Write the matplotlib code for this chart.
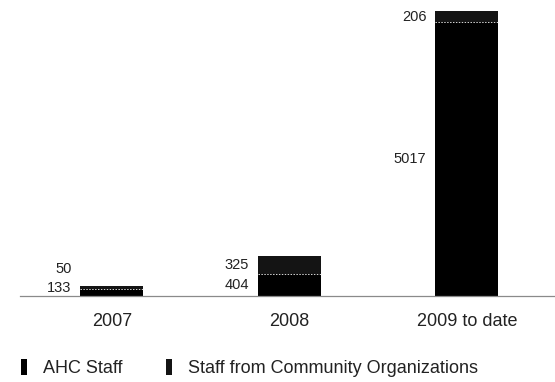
import matplotlib.pyplot as plt
import numpy as np

# Staff trained per period
periodi = ["2007", "2008", "2009 to date"]
ahc_staff = [133, 404, 5017]
staff_comunita = [50, 325, 206]

serie_nomi = ["AHC Staff", "Staff from Community Organizations"]

plt.rcParams["font.family"] = ["Liberation Sans", "DejaVu Sans"]


def disegna_grafico(ax, periodi, inferiore, superiore):
    """
    Barre impilate nere con le etichette dei valori a sinistra di ogni barra.
    """
    x = np.arange(len(periodi))
    larghezza = 0.355
    ax.bar(x, inferiore, width=larghezza, color="#000000", edgecolor="none",
           label=serie_nomi[0])
    ax.bar(x, superiore, width=larghezza, bottom=inferiore, color="#141414",
           edgecolor="none", label=serie_nomi[1])
    # sottile linea chiara tra i due segmenti
    ax.hlines(inferiore, x - larghezza / 2, x + larghezza / 2, colors="#d8d8d8",
              linestyles=(0, (1.5, 1.5)), linewidth=0.7)

    # etichette: al centro del segmento, distanziate se il segmento e' troppo basso
    minimo = 140
    distanza = 350
    for xi, a, b in zip(x, inferiore, superiore):
        y_basso = max(a / 2, minimo)
        y_alto = max(a + b / 2, y_basso + distanza)
        sx = xi - larghezza / 2 - 0.05
        ax.text(sx, y_basso, str(a), ha="right", va="center", fontsize=10.5,
                color="#222222")
        ax.text(sx, y_alto, str(b), ha="right", va="center", fontsize=10.5,
                color="#222222")

    ax.set_xticks(x)
    ax.set_xticklabels(periodi, fontsize=13, color="#222222")
    ax.tick_params(axis="x", length=0, pad=12)
    ax.set_yticks([])
    ax.set_xlim(-0.518, 2.496)
    ax.set_ylim(0, 5300)
    for lato in ["top", "right", "left"]:
        ax.spines[lato].set_visible(False)
    ax.spines["bottom"].set_color("#8a8a8a")
    ax.spines["bottom"].set_linewidth(0.9)


if __name__ == "__main__":
    fig = plt.figure(figsize=(5.55, 3.82), dpi=100)
    ax = fig.add_axes([0.036, 0.2251, 0.964, 0.757])
    disegna_grafico(ax, periodi, ahc_staff, staff_comunita)

    fig.legend(loc="center left", bbox_to_anchor=(0.038, 14 / 382), ncol=2,
               frameon=False, fontsize=13, handlelength=0.33, handleheight=0.95,
               handletextpad=0.9, columnspacing=2.4, borderpad=0,
               borderaxespad=0, labelcolor="#222222")

    fig.savefig("out.png", dpi=100)
